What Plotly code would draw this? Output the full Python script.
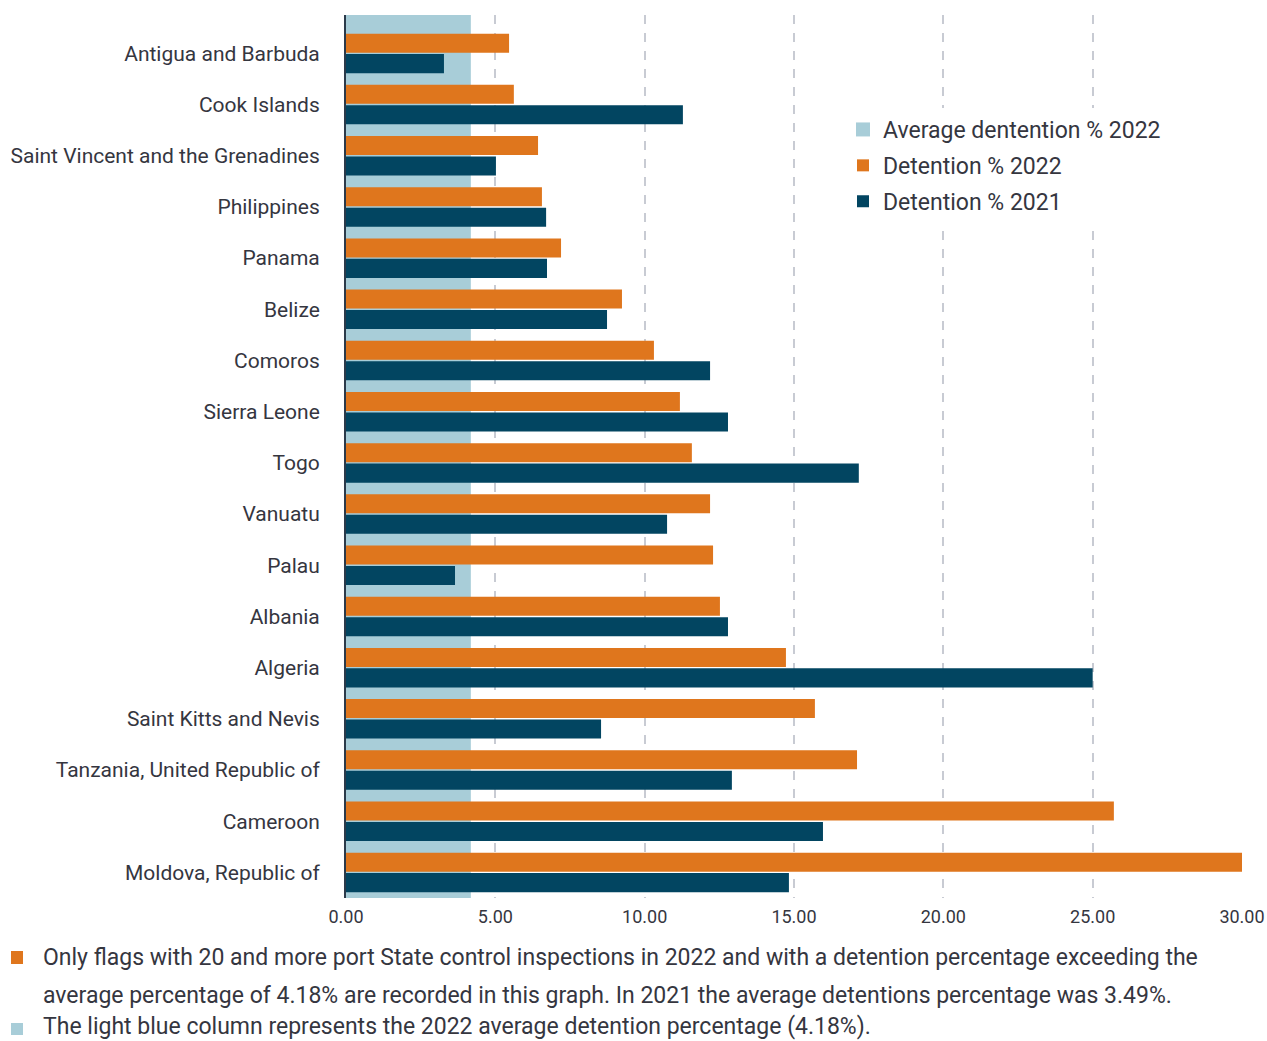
import plotly.graph_objects as go

countries = [
    "Antigua and Barbuda", "Cook Islands", "Saint Vincent and the Grenadines",
    "Philippines", "Panama", "Belize", "Comoros", "Sierra Leone", "Togo",
    "Vanuatu", "Palau", "Albania", "Algeria", "Saint Kitts and Nevis",
    "Tanzania, United Republic of", "Cameroon", "Moldova, Republic of",
]
detention_2022 = [5.46, 5.62, 6.43, 6.56, 7.20, 9.24, 10.31, 11.18, 11.58,
                  12.19, 12.29, 12.52, 14.73, 15.70, 17.11, 25.71, 30.00]
detention_2021 = [3.28, 11.28, 5.02, 6.70, 6.73, 8.74, 12.19, 12.79, 17.17,
                  10.75, 3.65, 12.79, 25.00, 8.54, 12.92, 15.97, 14.83]
avg_2022 = 4.18
x_ticks = [0, 5, 10, 15, 20, 25, 30]
x_tick_labels = ["0.00", "5.00", "10.00", "15.00", "20.00", "25.00", "30.00"]

ORANGE = "#DF761D"
DARK = "#024561"
LIGHT = "#A8CDD8"
TEXT = "#35363f"
FONT = "Roboto"

fig = go.Figure()

# legend-only entry for the average column
fig.add_trace(go.Scatter(
    x=[None], y=[None], mode="markers", name="Average dentention % 2022",
    marker=dict(symbol="square", size=14, color=LIGHT),
    legendgroup="a",
))
fig.add_trace(go.Bar(
    y=countries, x=detention_2022, orientation="h", name="Detention % 2022",
    marker=dict(color=ORANGE, line=dict(width=0)), legendgroup="b",
))
fig.add_trace(go.Bar(
    y=countries, x=detention_2021, orientation="h", name="Detention % 2021",
    marker=dict(color=DARK, line=dict(width=0)), legendgroup="c",
))

# light blue average column
fig.add_shape(type="rect", xref="x", yref="paper", x0=0, x1=avg_2022,
              y0=0, y1=1, fillcolor=LIGHT, line=dict(width=0), layer="below")

# footnote squares
fig.add_shape(type="rect", xref="paper", yref="paper",
              x0=(11 - 346) / 896, x1=(23 - 346) / 896,
              y0=(898 - 951) / 883, y1=(898 - 964) / 883,
              fillcolor=ORANGE, line=dict(width=0))
fig.add_shape(type="rect", xref="paper", yref="paper",
              x0=(11 - 346) / 896, x1=(23 - 346) / 896,
              y0=(898 - 1023) / 883, y1=(898 - 1035) / 883,
              fillcolor=LIGHT, line=dict(width=0))

notes = [
    ("Only flags with 20 and more port State control inspections in 2022 and with a detention percentage exceeding the", 958),
    ("average percentage of 4.18% are recorded in this graph. In 2021 the average detentions percentage was 3.49%.", 995),
    ("The light blue column represents the 2022 average detention percentage (4.18%).", 1026),
]
for txt, py in notes:
    fig.add_annotation(text=txt, xref="paper", yref="paper",
                       x=(41 - 346) / 896, y=(898 - py) / 883,
                       xanchor="left", yanchor="middle", showarrow=False,
                       font=dict(family=FONT, size=23, color=TEXT))

fig.update_layout(
    width=1267, height=1041,
    margin=dict(l=346, r=25, t=15, b=143),
    paper_bgcolor="white", plot_bgcolor="white",
    barmode="group", bargap=0.2, bargroupgap=0.07,
    font=dict(family=FONT, color=TEXT),
    showlegend=True,
    legend=dict(
        x=(843 - 346) / 896, y=(898 - 108) / 883, xanchor="left", yanchor="top",
        bgcolor="white", font=dict(family=FONT, size=23, color=TEXT),
        traceorder="grouped", tracegroupgap=3, itemwidth=30,
    ),
    xaxis=dict(
        range=[0, 30], tickvals=x_ticks, ticktext=x_tick_labels,
        showgrid=True, gridcolor="#c8cbd3", griddash="dash", gridwidth=1.5,
        zeroline=False, showline=False, ticks="", automargin=False,
        tickfont=dict(family=FONT, size=18, color=TEXT),
        ticklabelstandoff=6,
    ),
    yaxis=dict(
        type="category", categoryorder="array", categoryarray=countries,
        range=[16.5, -0.75], showgrid=False, zeroline=False, automargin=False,
        showline=True, linecolor="#2b3a4a", linewidth=2, ticks="",
        tickfont=dict(family=FONT, size=21, color=TEXT),
        ticklabelstandoff=20,
    ),
)

fig.write_html("out.html")
